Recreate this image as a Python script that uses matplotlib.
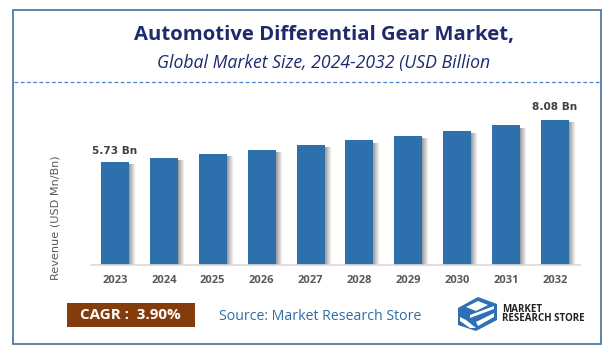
import matplotlib
matplotlib.use("Agg")
import matplotlib.pyplot as plt
from matplotlib.patches import Rectangle, Polygon
import numpy as np

years = ["2023","2024","2025","2026","2027","2028","2029","2030","2031","2032"]
revenue = [5.73,5.95,6.19,6.43,6.68,6.94,7.21,7.49,7.78,8.08]
first_label = "5.73 Bn"
last_label = "8.08 Bn"
title = "Automotive Differential Gear Market,"
subtitle = "Global Market Size, 2024-2032 (USD Billion"
ylabel = "Revenue (USD Mn/Bn)"
cagr = "CAGR :  3.90%"
source = "Source: Market Research Store"

W, H = 615, 354
fig = plt.figure(figsize=(W/100, H/100), dpi=100, facecolor="white")

bg = fig.add_axes([0,0,1,1]); bg.set_xlim(0,W); bg.set_ylim(H,0); bg.axis("off")
bg.add_patch(Rectangle((13,9.5),588,334.5,fill=False,ec="#41719c",lw=1.2))
bg.plot([14,600],[82,82],color="#4a80d0",lw=0.9,ls=(0,(3,2)))
bg.text(323.5,35,title,ha="center",va="center",fontsize=14.55,fontweight="bold",family="Open Sans",color="#1f2a6e")
bg.text(323.5,63,subtitle,ha="center",va="center",fontsize=12.7,style="italic",family="Open Sans",color="#1f2a6e")
bg.text(55,218,ylabel,rotation=90,ha="center",va="center",fontsize=8.1,family="DejaVu Sans",color="#595959")

# CAGR box, source
bg.add_patch(Rectangle((67,303),128,24,fc="#843c0c",ec="none"))
bg.text(130,315,cagr,ha="center",va="center",fontsize=10.9,fontweight="bold",family="Open Sans",color="white")
bg.text(320,316,source,ha="center",va="center",fontsize=10.2,family="Open Sans",color="#2e6ca4")

# logo
blue="#2e6fb5"
bg.add_patch(Polygon([[458,308],[478,297],[497,304],[497,320],[476,331],[458,325]],fc=blue,ec="none"))
bg.add_patch(Polygon([[466,307],[478,301],[488,305],[476,311]],fc="white",ec="none"))
bg.add_patch(Polygon([[470,315],[494,306],[494,309],[470,318]],fc="white",ec="none"))
bg.add_patch(Polygon([[460,317],[466,320],[476,328],[470,328],[460,321]],fc="white",ec="none"))
bg.add_patch(Polygon([[476,322],[494,313],[494,317],[478,326]],fc="white",ec="none"))
bg.text(502,309,"MARKET",ha="left",va="center",fontsize=7,fontweight="bold",family="Open Sans",color="#222222")
bg.text(502,318.5,"RESEARCH STORE",ha="left",va="center",fontsize=7,fontweight="bold",family="Open Sans",color="#222222")

# chart
top_px, base_px = 100, 265
ax = fig.add_axes([90.5/W, 1-base_px/H, 489/W, (base_px-top_px)/H])
ax.patch.set_alpha(0)
x = np.arange(len(years))
ax.set_xlim(-0.5,9.5); ax.set_ylim(0,(base_px-top_px)/17.95)
bw = 0.573
n = 7
for i in range(n):
    c = str(0.62+0.37*i/(n-1))
    off = bw/2 + i*0.0205 + 0.01
    ax.bar(x+off, np.array(revenue)-0.12, width=0.0215, color=c, lw=0, zorder=1)
ax.bar(x, revenue, width=bw, color="#2e6fad", lw=0, zorder=2)
ax.set_xticks(x); ax.set_xticklabels(years,fontsize=8,fontweight="bold",family="Open Sans",color="#595959")
ax.tick_params(axis="x",length=0,pad=7)
ax.set_yticks([])
for s in ["top","left","right"]: ax.spines[s].set_visible(False)
ax.spines["bottom"].set_color("#d9d9d9"); ax.spines["bottom"].set_linewidth(1.2)
ax.text(x[0],revenue[0]+0.35,first_label,ha="center",va="bottom",fontsize=7.6,fontweight="bold",family="DejaVu Sans",color="#404040")
ax.text(x[-1],revenue[-1]+0.42,last_label,ha="center",va="bottom",fontsize=7.6,fontweight="bold",family="DejaVu Sans",color="#404040")

fig.savefig("out.png",dpi=100,facecolor="white")
